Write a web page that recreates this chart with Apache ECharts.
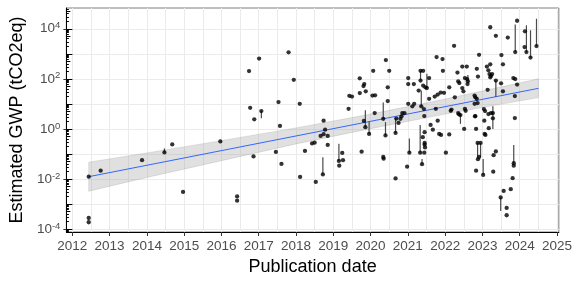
<!DOCTYPE html>
<html>
<head>
<meta charset="utf-8">
<script src="https://cdn.jsdelivr.net/npm/echarts@6/dist/echarts.min.js"></script>
<style>
html, body { margin: 0; padding: 0; background: #fff; }
#viz { width: 575px; height: 281px; }
</style>
</head>
<body>
<div id="viz"></div>
<script>
/* publication date (decimal year) and estimated GWP as log10(tCO2eq) */
var pubYear = [
  2012.44, 2012.76, 2012.44, 2012.44, 2013.87, 2014.47, 2014.68, 2014.97, 2015.97, 2016.42,
  2016.42, 2016.74, 2016.77, 2016.86, 2016.88, 2017.01, 2017.07, 2017.46, 2017.53, 2017.57,
  2017.61, 2017.80, 2017.94, 2018.10, 2018.11, 2018.24, 2018.43, 2018.50, 2018.53, 2018.72,
  2018.74, 2018.78, 2018.74, 2018.66, 2018.85, 2018.85, 2019.15, 2019.24, 2019.16, 2019.26,
  2019.41, 2019.43, 2019.50, 2019.71, 2019.71, 2019.76, 2019.81, 2019.83, 2019.82, 2019.87,
  2019.86, 2019.96, 2020.07, 2020.05, 2020.12, 2020.11, 2020.34, 2020.34, 2020.35, 2020.40,
  2020.41, 2020.46, 2020.46, 2020.50, 2020.67, 2020.67, 2020.69, 2020.75, 2020.80, 2020.83,
  2020.85, 2020.91, 2020.98, 2021.04, 2021.01, 2021.01, 2021.01, 2021.12, 2021.16, 2021.17,
  2021.29, 2021.33, 2021.34, 2021.34, 2021.36, 2021.38, 2021.41, 2021.41, 2021.44, 2021.45,
  2021.46, 2021.45, 2021.40, 2021.45, 2021.44, 2021.43, 2021.47, 2021.51, 2021.57, 2021.57,
  2021.61, 2021.67, 2021.72, 2021.75, 2021.77, 2021.80, 2021.80, 2021.84, 2021.88, 2021.89,
  2021.93, 2021.94, 2021.97, 2022.02, 2022.11, 2022.11, 2022.15, 2022.17, 2022.24, 2022.26,
  2022.33, 2022.35, 2022.38, 2022.35, 2022.37, 2022.41, 2022.46, 2022.46, 2022.49, 2022.51,
  2022.53, 2022.53, 2022.55, 2022.58, 2022.59, 2022.61, 2022.60, 2022.79, 2022.79, 2022.80,
  2022.81, 2022.81, 2022.83, 2022.83, 2022.85, 2022.85, 2022.87, 2022.88, 2022.87, 2022.88,
  2022.91, 2022.91, 2022.95, 2023.02, 2023.04, 2023.05, 2023.06, 2023.08, 2023.12, 2023.14,
  2023.16, 2023.16, 2023.17, 2023.19, 2023.21, 2023.21, 2023.21, 2023.23, 2023.23, 2023.26,
  2023.28, 2023.28, 2023.29, 2023.30, 2023.36, 2023.36, 2023.36, 2023.49, 2023.50, 2023.51,
  2023.55, 2023.55, 2023.57, 2023.65, 2023.65, 2023.68, 2023.76, 2023.84, 2023.84, 2023.81,
  2023.83, 2023.87, 2023.87, 2023.88, 2023.88, 2023.93, 2023.93, 2024.14, 2024.13, 2024.18,
  2024.29, 2024.45, 2023.07
];
var log10Gwp = [
  -1.91, -1.67, -3.56, -3.73, -1.25, -0.94, -0.62, -2.52, -0.50, -2.70,
  -2.87, 2.31, 0.84, -1.10, 0.38, 2.81, 0.71, -0.92, 1.07, 0.12,
  -1.40, 3.06, 1.96, 1.00, -1.92, -0.88, -0.58, -0.55, -2.12, -1.82,
  0.33, -0.03, -0.21, -0.28, -0.28, -0.64, -1.28, -0.96, -1.47, -1.25,
  0.80, 1.32, 1.29, 2.02, 1.43, -0.91, 1.71, 1.79, 0.32, 1.50,
  0.07, -0.20, 2.32, 1.33, 1.34, 0.63, 0.40, -1.12, -1.19, -0.26,
  2.75, 1.66, 1.11, 2.32, -1.98, -0.16, 0.41, 0.24, 0.40, 0.50,
  0.63, 0.63, -1.51, -0.95, 2.03, 1.79, 1.00, 0.90, 1.79, 1.00,
  1.53, -0.95, 2.32, 1.93, 0.90, -1.41, 2.32, 1.73, -0.95, -0.63,
  -0.74, -0.56, -0.33, -0.13, 0.51, 0.79, 1.66, 1.63, 2.03, 1.20,
  0.16, -0.03, 1.29, 0.80, 2.87, 0.33, 1.37, -0.20, 1.45, -0.24,
  2.79, 2.32, 1.44, -0.95, 1.66, -0.22, 0.72, 0.77, 3.32, 1.26,
  2.25, 1.90, 1.83, 0.63, 0.58, 0.55, 2.49, 1.63, 1.50, 0.00,
  2.03, 0.80, 0.72, 2.49, 1.99, 1.90, 1.79, 1.33, 1.00, 0.50,
  1.26, 0.51, -1.67, 0.00, 2.40, 1.20, -0.56, 2.09, 1.03, -1.21,
  2.96, -1.12, -0.56, -1.84, 0.79, 0.33, -0.20, -0.24, 2.49, 1.56,
  2.34, 0.59, 0.03, 2.19, 4.06, 2.58, 2.06, 2.12, 0.63, 2.19,
  0.63, 0.42, -1.71, -1.05, 3.72, 1.93, -0.90, -2.74, 1.82, 2.95,
  2.58, 1.50, -2.48, -3.16, -3.45, 3.65, -2.41, -1.37, -1.47, -1.97,
  2.03, 0.43, 1.31, 1.99, 3.07, 4.32, 1.77, 3.90, 3.27, 3.07,
  2.85, 3.31, 0.71
];

// uncertainty ranges: [year, low, high] in log10
var errBars = [
  [2014.47, -0.94, -0.78], [2017.07, 0.42, 0.71], [2018.72, -1.82, -1.13],
  [2019.15, -1.28, -0.59], [2019.86, 0.07, 0.74], [2019.96, -0.20, 0.30],
  [2020.34, 0.40, 1.05], [2020.40, -0.26, 0.27], [2020.67, -0.16, 0.43],
  [2021.04, -0.95, -0.38], [2021.33, -0.95, 0.16], [2021.34, 1.93, 2.32],
  [2021.36, 0.90, 1.53], [2021.38, -1.41, -1.20], [2021.51, 1.63, 2.20],
  [2022.41, 0.20, 0.55], [2022.61, 1.90, 2.15], [2022.87, -1.12, -0.56],
  [2022.95, -1.12, -0.56], [2023.02, -1.84, -1.20], [2023.28, 0.00, 0.90],
  [2023.36, 1.27, 1.93], [2023.49, -3.28, -2.74], [2023.84, -1.37, -0.64],
  [2023.88, 3.07, 4.17], [2024.18, 3.07, 4.14], [2024.29, 2.85, 3.94],
  [2024.45, 3.31, 4.40]
];

// linear fit and its confidence band
var fitYear = [2012.44, 2024.5];
var fitLog = [-1.91, 1.62];
var bandYear = [2012.44, 2014, 2016, 2018, 2020, 2022, 2024.5];
var bandLo = [-2.49, -1.94, -1.27, -0.60, 0.01, 0.59, 1.25];
var bandHi = [-1.33, -0.96, -0.47, 0.04, 0.59, 1.19, 2.00];

// ticks
var yearTicks = [2012, 2013, 2014, 2015, 2016, 2017, 2018, 2019, 2020, 2021, 2022, 2023, 2024, 2025];
var halfYearTicks = [2012.5, 2013.5, 2014.5, 2015.5, 2016.5, 2017.5, 2018.5, 2019.5, 2020.5, 2021.5, 2022.5, 2023.5, 2024.5];
var powLabels = [-4, -2, 0, 2, 4];
var decades = [-4, -3, -2, -1, 0, 1, 2, 3, 4];

var font = 'Liberation Sans, Arial, Helvetica, sans-serif';
var gridCol = '#ebebeb';

var mid5 = [], shortTicks = [];
for (var k = -5; k <= 4; k++) {
  mid5.push(k + Math.log10(5));
  [2, 3, 4, 6, 7, 8, 9].forEach(function (m) { shortTicks.push(k + Math.log10(m)); });
}

var points = pubYear.map(function (y, i) { return [y, log10Gwp[i]]; });

var xMin = 2011.84, xMax = 2025.05, yMin = -4.12, yMax = 4.83;

function yAx(extra) {
  var base = {
    type: 'value', min: yMin, max: yMax, position: 'left',
    axisLine: { show: false, onZero: false }, axisLabel: { show: false },
    splitLine: { show: false },
    axisTick: { show: false }
  };
  return Object.assign(base, extra);
}

var option = {
  animation: false,
  grid: { left: 64, right: 9, top: 8, bottom: 47, show: true, borderColor: '#7f7f7f', borderWidth: 1, containLabel: false },
  xAxis: [{
    type: 'value', min: xMin, max: xMax, position: 'bottom',
    name: 'Publication date', nameLocation: 'middle', nameGap: 26,
    nameTextStyle: { fontFamily: font, fontSize: 18, color: '#000' },
    axisLine: { show: true, onZero: false, lineStyle: { color: '#000', width: 1 } },
    axisTick: { show: true, customValues: yearTicks, length: 4, lineStyle: { color: '#333' } },
    axisLabel: {
      customValues: yearTicks, margin: 7, fontFamily: font, fontSize: 13.5, color: '#4d4d4d',
      formatter: function (v) { return String(v); }
    },
    splitLine: { show: true, lineStyle: { color: gridCol, width: 1 } }
  }, {
    type: 'value', min: xMin, max: xMax, position: 'bottom',
    axisLine: { show: false, onZero: false }, axisLabel: { show: false },
    axisTick: { show: false, customValues: halfYearTicks },
    splitLine: { show: true, lineStyle: { color: gridCol, width: 1 } }
  }],
  yAxis: [
    yAx({
      name: 'Estimated GWP (tCO2eq)', nameLocation: 'middle', nameGap: 37,
      nameTextStyle: { fontFamily: font, fontSize: 18, color: '#000' },
      axisLine: { show: true, onZero: false, lineStyle: { color: '#000', width: 1 } },
      axisTick: { show: true, customValues: powLabels, length: 3, lineStyle: { color: '#333' } },
      axisLabel: {
        show: true, customValues: powLabels, margin: 6,
        formatter: function (v) { return '{b|10}{s|' + v + '}'; },
        rich: {
          b: { fontFamily: font, fontSize: 13.5, color: '#4d4d4d', lineHeight: 16 },
          s: { fontFamily: font, fontSize: 9.5, color: '#4d4d4d', verticalAlign: 'top', lineHeight: 10 }
        }
      }
    }),
    yAx({
      axisTick: { show: true, inside: true, customValues: decades, length: 6, lineStyle: { color: '#000' } },
      splitLine: { show: true, lineStyle: { color: gridCol, width: 1 } }
    }),
    yAx({ axisTick: { show: true, inside: true, customValues: mid5, length: 4, lineStyle: { color: '#000' } } }),
    yAx({ axisTick: { show: true, inside: true, customValues: shortTicks, length: 2.5, lineStyle: { color: '#000' } } })
  ],
  series: [{
    type: 'custom', name: 'band', silent: true, z: 2,
    data: [[bandYear[0], bandLo[0]]],
    renderItem: function (params, api) {
      var pts = [];
      for (var i = 0; i < bandYear.length; i++) pts.push(api.coord([bandYear[i], bandHi[i]]));
      for (var j = bandYear.length - 1; j >= 0; j--) pts.push(api.coord([bandYear[j], bandLo[j]]));
      return { type: 'polygon', shape: { points: pts }, style: { fill: 'rgba(153,153,153,0.3)', stroke: 'rgba(130,130,130,0.35)', lineWidth: 0.6 } };
    }
  }, {
    type: 'line', name: 'fit', silent: true, z: 3,
    data: fitYear.map(function (y, i) { return [y, fitLog[i]]; }),
    showSymbol: false, lineStyle: { color: '#3366FF', width: 1 }
  }, {
    type: 'custom', name: 'range', silent: true, z: 4,
    data: errBars,
    encode: { x: 0, y: [1, 2] },
    renderItem: function (params, api) {
      var a = api.coord([api.value(0), api.value(1)]);
      var b = api.coord([api.value(0), api.value(2)]);
      return { type: 'line', shape: { x1: a[0], y1: a[1], x2: b[0], y2: b[1] }, style: { stroke: '#4a4a4a', lineWidth: 1.2 } };
    }
  }, {
    type: 'scatter', name: 'GWP', silent: true, z: 5,
    data: points, symbolSize: 4.3,
    itemStyle: { color: '#000' }
  }]
};

var chart = echarts.init(document.getElementById('viz'));
chart.setOption(option);
</script>
</body>
</html>
